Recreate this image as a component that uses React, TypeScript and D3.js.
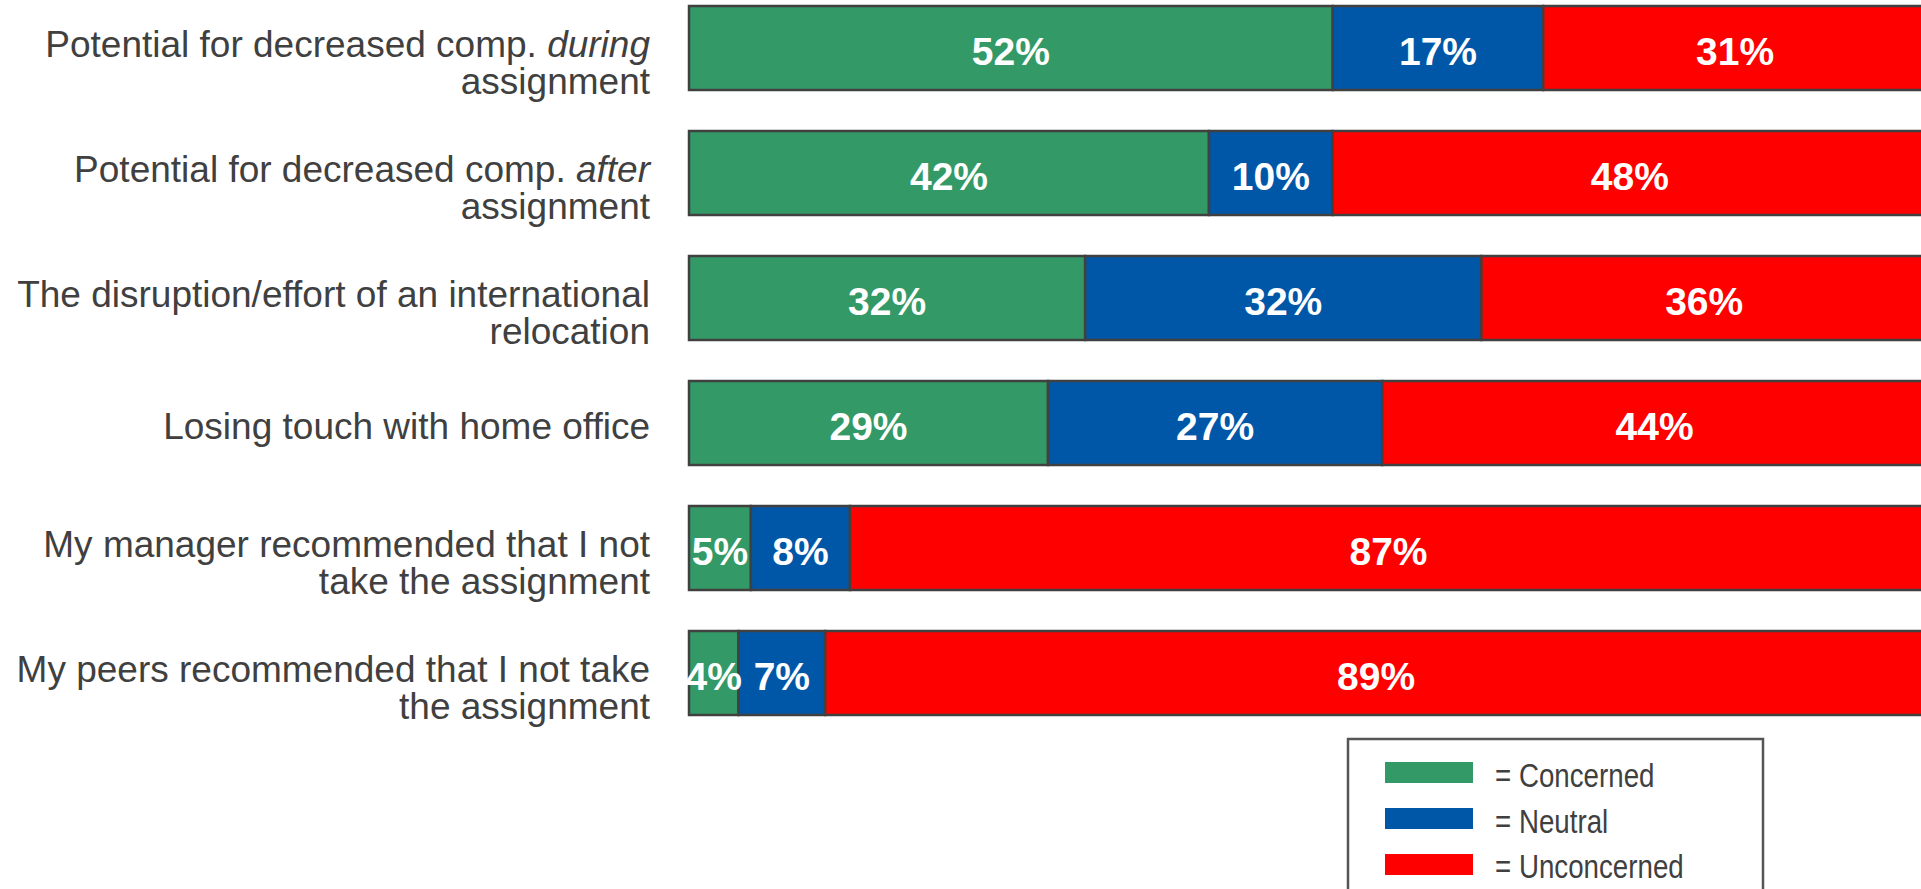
import * as d3 from "d3";

const categories = ["during", "after", "disruption", "losing", "manager", "peers"];

// label lines per category; italic words flagged with *
const labelLines: string[][] = [
  ["Potential for decreased comp. *during*", "assignment"],
  ["Potential for decreased comp. *after*", "assignment"],
  ["The disruption/effort of an international", "relocation"],
  ["Losing touch with home office"],
  ["My manager recommended that I not", "take the assignment"],
  ["My peers recommended that I not take", "the assignment"],
];

const concerned = [52, 42, 32, 29, 5, 4];
const neutral = [17, 10, 32, 27, 8, 7];
const unconcerned = [31, 48, 36, 44, 87, 89];

const seriesNames = ["Concerned", "Neutral", "Unconcerned"];
const seriesColors = ["#339966", "#0057A8", "#FF0000"];

const WIDTH = 1921;
const HEIGHT = 889;
const TEXT = "#404040";

const renderLine = (line: string) => {
  const parts = line.split("*");
  return parts.map((p, i) =>
    p === "" ? null : (
      <tspan key={i} fontStyle={i % 2 === 1 ? "italic" : "normal"}>
        {p}
      </tspan>
    )
  );
};

export default function App() {
  const x = d3.scaleLinear().domain([0, 100]).range([689, 1927]);
  const y = d3
    .scaleBand()
    .domain(categories)
    .range([6, 715])
    .paddingInner(0.328);

  const series = [concerned, neutral, unconcerned];

  return (
    <svg
      width={WIDTH}
      height={HEIGHT}
      style={{ position: "fixed", left: 0, top: 0, background: "#fff" }}
      fontFamily="'Liberation Sans', Arial, sans-serif"
    >
      {categories.map((cat, ci) => {
        const y0 = y(cat) ?? 0;
        const h = y.bandwidth();
        const cy = y0 + h / 2;
        const lines = labelLines[ci];
        let acc = 0;
        return (
          <g key={cat}>
            {series.map((vals, si) => {
              const start = acc;
              acc += vals[ci];
              return (
                <rect
                  key={si}
                  x={x(start)}
                  y={y0}
                  width={x(acc) - x(start)}
                  height={h}
                  fill={seriesColors[si]}
                  stroke={TEXT}
                  strokeWidth={2.5}
                />
              );
            })}
            {(() => {
              let a = 0;
              return series.map((vals, si) => {
                const mid = a + vals[ci] / 2;
                a += vals[ci];
                return (
                  <text
                    key={"t" + si}
                    x={x(mid)}
                    y={cy + 17}
                    textAnchor="middle"
                    fill="#fff"
                    fontWeight="bold"
                    fontSize={39}
                  >
                    {vals[ci] + "%"}
                  </text>
                );
              });
            })()}
            <text textAnchor="end" fill={TEXT} fontSize={37}>
              {lines.length === 1 ? (
                <tspan x={650} y={cy + 16}>
                  {renderLine(lines[0])}
                </tspan>
              ) : (
                lines.map((ln, li) => (
                  <tspan key={li} x={650} y={cy + 9 + li * 37}>
                    {renderLine(ln)}
                  </tspan>
                ))
              )}
            </text>
          </g>
        );
      })}
      <g>
        <rect
          x={1348}
          y={739}
          width={415}
          height={170}
          fill="#fff"
          stroke="#555"
          strokeWidth={2.5}
        />
        {seriesNames.map((name, i) => (
          <g key={name}>
            <rect
              x={1385}
              y={762 + i * 46}
              width={88}
              height={21}
              fill={seriesColors[i]}
            />
            <text
              transform={`translate(1495, ${787 + i * 45.5}) scale(0.84, 1)`}
              fill={TEXT}
              fontSize={33}
            >
              {"= " + name}
            </text>
          </g>
        ))}
      </g>
    </svg>
  );
}
